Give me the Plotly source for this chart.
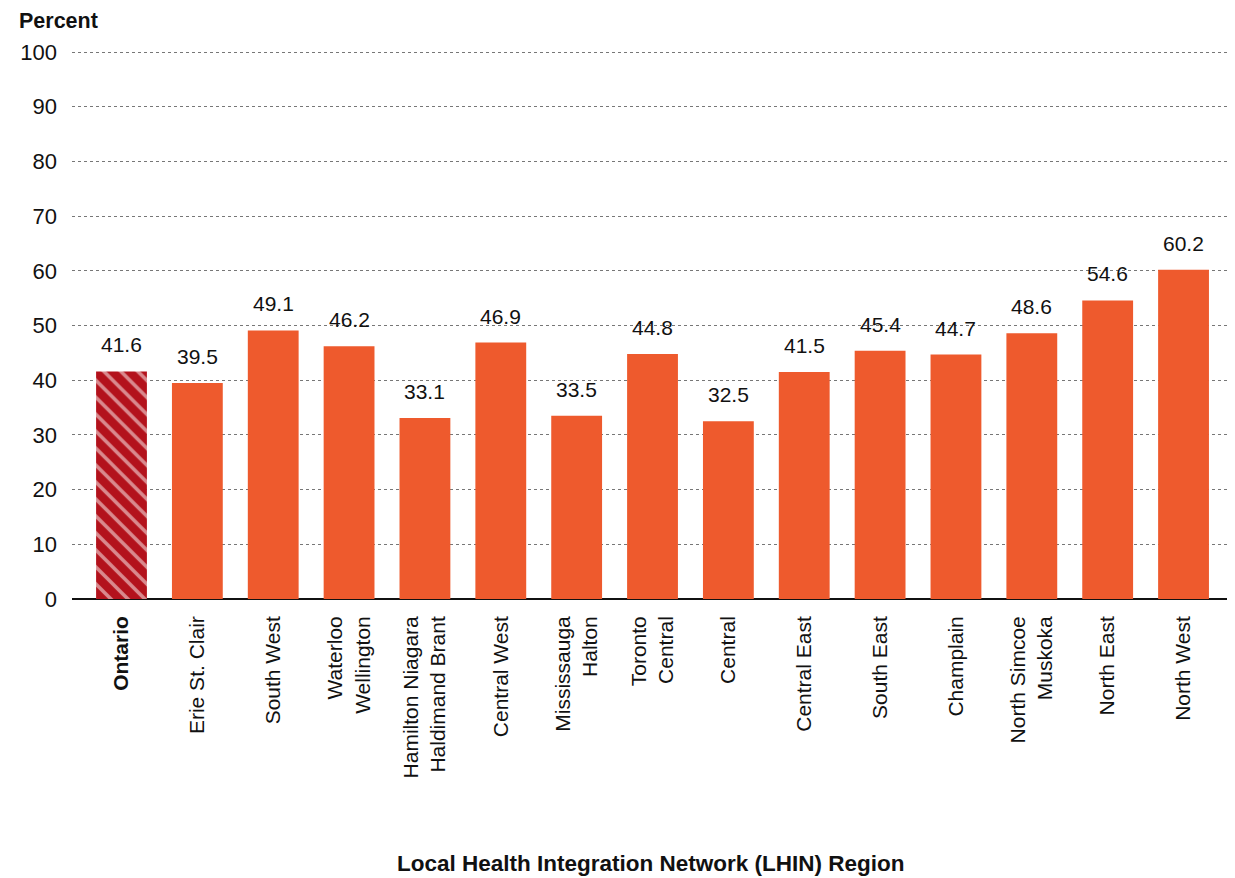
import plotly.graph_objects as go

categories = ["Ontario", "Erie St. Clair", "South West", "Waterloo Wellington",
              "Hamilton Niagara Haldimand Brant", "Central West", "Mississauga Halton",
              "Toronto Central", "Central", "Central East", "South East", "Champlain",
              "North Simcoe Muskoka", "North East", "North West"]
tick_labels = ["<b>Ontario</b>", "Erie St. Clair", "South West", "Waterloo<br>Wellington",
               "Hamilton Niagara<br>Haldimand Brant", "Central West", "Mississauga<br>Halton",
               "Toronto<br>Central", "Central", "Central East", "South East", "Champlain",
               "North Simcoe<br>Muskoka", "North East", "North West"]
values = [41.6, 39.5, 49.1, 46.2, 33.1, 46.9, 33.5, 44.8, 32.5, 41.5, 45.4, 44.7, 48.6, 54.6, 60.2]
y_ticks = [0, 10, 20, 30, 40, 50, 60, 70, 80, 90, 100]

FONT = "Liberation Sans, Arial, Helvetica, sans-serif"
ORANGE = "#EE5A2D"
RED = "#B3121C"

fig = go.Figure()

# Ontario bar (patterned)
fig.add_trace(go.Bar(
    x=categories[:1], y=values[:1],
    marker=dict(color=RED, line=dict(width=0),
                pattern=dict(shape="\\", fgcolor="white", bgcolor=RED,
                             size=12, solidity=0.3, fillmode="overlay")),
    showlegend=False, hoverinfo="skip",
))
# LHIN bars
fig.add_trace(go.Bar(
    x=categories[1:], y=values[1:],
    marker=dict(color=ORANGE, line=dict(width=0)),
    showlegend=False, hoverinfo="skip",
))

# value labels
for c, v in zip(categories, values):
    fig.add_annotation(x=c, y=v, xref="x", yref="y", text=f"{v:.1f}",
                       showarrow=False, yanchor="bottom", yshift=13,
                       font=dict(family=FONT, size=21, color="#111"))

# y title
fig.add_annotation(x=0, y=1, xref="paper", yref="paper", text="<b>Percent</b>",
                   showarrow=False, xanchor="left", yanchor="middle",
                   xshift=-55, yshift=30,
                   font=dict(family=FONT, size=21.5, color="#111"))
# x title
fig.add_annotation(x=0.5, y=-0.482, xref="paper", yref="paper",
                   text="<b>Local Health Integration Network (LHIN) Region</b>",
                   showarrow=False, xanchor="center", yanchor="middle",
                   font=dict(family=FONT, size=22.5, color="#111"))

# page body adds an 8px offset; compensate with figure size and margins
fig.update_layout(
    width=1227, height=870,
    margin=dict(l=64, r=5, t=43, b=279),
    plot_bgcolor="white", paper_bgcolor="white",
    bargap=0.33,
    font=dict(family=FONT, size=21, color="#111"),
)
fig.update_xaxes(
    categoryorder="array", categoryarray=categories,
    tickvals=categories, ticktext=tick_labels,
    range=[-0.6525, 14.6125],
    tickangle=-90, ticks="", showgrid=False,
    showline=False, ticklabelstandoff=12,
    tickfont=dict(family=FONT, size=21, color="#111"),
)
fig.update_yaxes(
    range=[0, 100.2], tickvals=y_ticks,
    showgrid=True, gridcolor="#777", gridwidth=1, griddash="dot",
    zeroline=True, zerolinecolor="#111", zerolinewidth=2,
    ticks="", ticklabelstandoff=14,
    tickfont=dict(family=FONT, size=22, color="#111"),
)

fig.write_html("out.html")
